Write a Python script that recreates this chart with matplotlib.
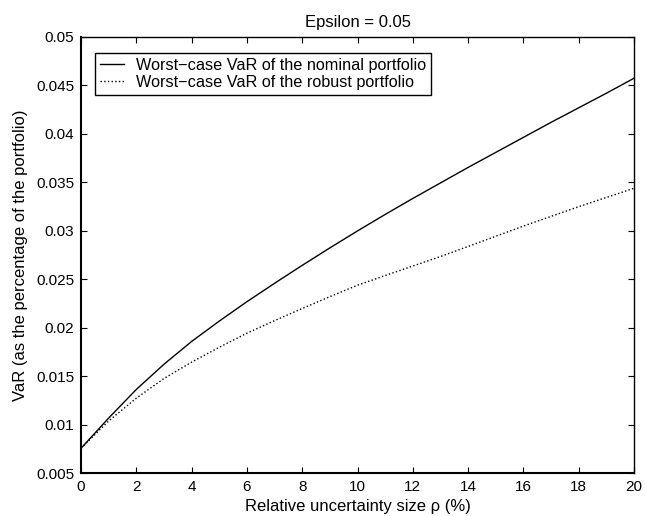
import matplotlib
matplotlib.use("Agg")
import matplotlib.pyplot as plt
from matplotlib.ticker import FuncFormatter

plt.rcParams['font.family'] = ['Liberation Sans', 'DejaVu Sans']

rho = list(range(0, 21))
nominal = [0.00758, 0.01070, 0.01365, 0.01625, 0.01860, 0.02070, 0.02270, 0.02460,
           0.02645, 0.02825, 0.03000, 0.03170, 0.03335, 0.03495, 0.03655, 0.03810,
           0.03965, 0.04120, 0.04270, 0.04420, 0.04575]
robust = [0.00758, 0.01040, 0.01275, 0.01478, 0.01647, 0.01800, 0.01945, 0.02075,
          0.02200, 0.02322, 0.02440, 0.02540, 0.02638, 0.02736, 0.02840, 0.02945,
          0.03050, 0.03150, 0.03250, 0.03345, 0.03440]
xticks = [0, 2, 4, 6, 8, 10, 12, 14, 16, 18, 20]
yticks = [0.005, 0.01, 0.015, 0.02, 0.025, 0.03, 0.035, 0.04, 0.045, 0.05]

fig = plt.figure(figsize=(6.45, 5.16), dpi=100)
ax = fig.add_axes([0.1256, 0.0827, 0.8574, 0.8456])

ax.plot(rho, nominal, color='black', lw=1.0, linestyle='-',
        label='Worst\u2212case VaR of the nominal portfolio')
ax.plot(rho, robust, color='black', lw=1.0, linestyle=':',
        label='Worst\u2212case VaR of the robust portfolio')

ax.set_xlim(0, 20)
ax.set_ylim(0.005, 0.05)
ax.set_xticks(xticks)
ax.set_yticks(yticks)
ax.yaxis.set_major_formatter(FuncFormatter(lambda v, p: '%g' % round(v, 4)))
ax.tick_params(direction='in', top=True, right=True, length=4, width=0.8,
               labelsize=11, pad=5)
for side in ['left', 'bottom']:
    ax.spines[side].set_linewidth(1.5)
for side in ['top', 'right']:
    ax.spines[side].set_linewidth(1.0)

ax.set_title('Epsilon = 0.05', fontsize=12, pad=7)
ax.set_xlabel('Relative uncertainty size \u03c1 (%)', fontsize=12, labelpad=3.5)
ax.set_ylabel('VaR (as the percentage of the portfolio)', fontsize=12)
ax.yaxis.set_label_coords(-0.096, 0.5)

leg = ax.legend(loc='upper left', bbox_to_anchor=(0.025, 0.963), borderaxespad=0,
                fontsize=11.7, fancybox=False, edgecolor='black', framealpha=1,
                borderpad=0.3, labelspacing=0.12, handlelength=1.5, handletextpad=0.75)
leg.get_frame().set_linewidth(1.0)

fig.savefig('out.png', dpi=100)
